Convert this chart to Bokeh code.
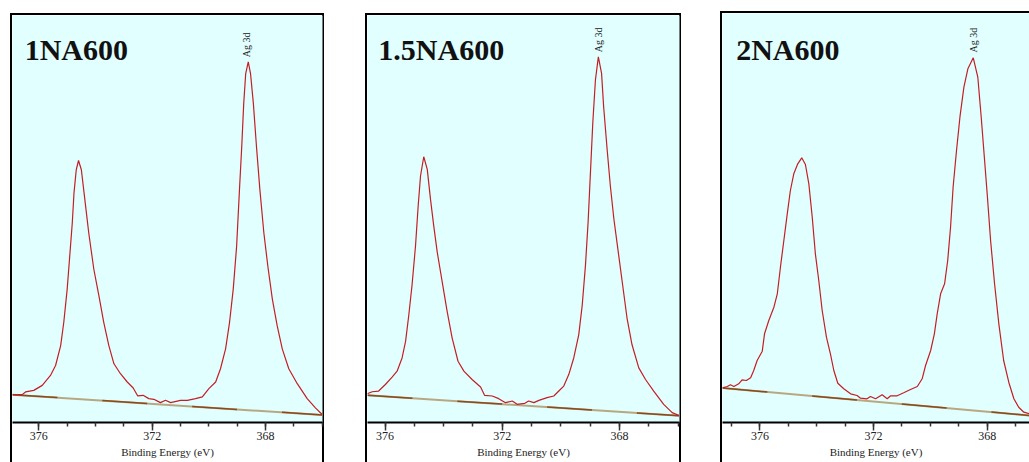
import math
from bokeh.plotting import figure
from bokeh.models import Range1d, FixedTicker, Label
from bokeh.layouts import row
from bokeh.embed import file_html
from bokeh.resources import INLINE

# ---------------- data ----------------
samples = ["1NA600", "1.5NA600", "2NA600"]
peak_name = "Ag 3d"
axis_title = "Binding Energy (eV)"
major_ticks = [376, 372, 368]
minor_ticks = [366, 367, 368, 369, 370, 371, 372, 373, 374, 375, 376, 377]

be_1 = [376.94, 376.59, 376.47, 376.18, 375.88, 375.59, 375.41, 375.23, 375.12, 375.00,
        374.91, 374.82, 374.76, 374.68, 374.60, 374.50, 374.39, 374.24, 374.06, 373.88,
        373.71, 373.53, 373.35, 373.12, 372.88, 372.67, 372.51, 372.32, 372.12, 371.94,
        371.71, 371.53, 371.35, 371.00, 370.76, 370.47, 370.23, 370.00, 369.76, 369.59,
        369.41, 369.27, 369.14, 369.02, 368.92, 368.84, 368.77, 368.70, 368.61, 368.53,
        368.43, 368.32, 368.20, 368.06, 367.92, 367.76, 367.59, 367.41, 367.18, 366.88,
        366.53, 366.24, 366.00]
cps_1 = [2800, 2800, 3070, 3230, 3730, 4730, 5730, 7730, 10070, 13400,
         16730, 20070, 23070, 25400, 26330, 25400, 22730, 19070, 15400, 12730,
         10070, 7730, 5900, 4900, 4070, 3470, 2670, 2730, 2400, 2330,
         2000, 2230, 2000, 2230, 2230, 2400, 2570, 3400, 4070, 5400,
         7400, 10070, 13400, 17730, 23400, 27730, 32070, 35070, 36230, 35070,
         32070, 27730, 23400, 19070, 15730, 12400, 9730, 7400, 5400, 3900,
         2400, 1470, 800]
bg_be_1 = [376.93, 365.99]
bg_cps_1 = [2800, 750]

be_2 = [376.61, 376.44, 376.22, 375.99, 375.76, 375.59, 375.42, 375.30, 375.19, 375.08,
        374.96, 374.87, 374.79, 374.68, 374.56, 374.45, 374.34, 374.22, 374.05, 373.88,
        373.71, 373.51, 373.31, 373.03, 372.74, 372.60, 372.34, 372.12, 371.89, 371.66,
        371.49, 371.23, 371.10, 370.92, 370.75, 370.47, 370.24, 370.07, 369.90, 369.73,
        369.56, 369.39, 369.27, 369.16, 369.07, 368.99, 368.91, 368.82, 368.72, 368.61,
        368.54, 368.42, 368.31, 368.19, 368.04, 367.89, 367.74, 367.57, 367.34, 367.11,
        366.83, 366.49, 366.20, 365.98]
cps_2 = [2900, 3100, 3170, 3830, 4570, 5170, 6500, 8170, 10830, 13830,
         17830, 21830, 24830, 26770, 25500, 22500, 19830, 17170, 14170, 11170,
         8500, 6170, 5170, 4330, 3570, 2730, 2670, 2400, 2000, 2170,
         1830, 1930, 2170, 2000, 2230, 2500, 2670, 3170, 3670, 4830,
         6500, 8830, 11830, 15830, 20170, 25170, 30170, 34500, 36830, 35170,
         31830, 27500, 23830, 20500, 17170, 13830, 10500, 7830, 5500, 4330,
         3170, 1830, 1000, 730]
bg_be_2 = [376.60, 365.95]
bg_cps_2 = [2750, 670]

be_3 = [377.33, 377.15, 377.04, 376.92, 376.75, 376.63, 376.48, 376.33, 376.22, 376.10,
        375.92, 375.84, 375.69, 375.51, 375.39, 375.28, 375.16, 375.04, 374.93, 374.81,
        374.67, 374.53, 374.40, 374.28, 374.16, 374.05, 373.93, 373.81, 373.66, 373.52,
        373.40, 373.26, 373.05, 372.81, 372.58, 372.46, 372.23, 372.11, 371.93, 371.70,
        371.52, 371.40, 371.17, 370.94, 370.70, 370.46, 370.29, 370.17, 369.99, 369.86,
        369.76, 369.64, 369.50, 369.39, 369.29, 369.20, 369.08, 368.96, 368.82, 368.68,
        368.49, 368.33, 368.21, 368.10, 368.00, 367.88, 367.74, 367.59, 367.42, 367.24,
        367.06, 366.89, 366.71, 366.51]
cps_3 = [3470, 3600, 3770, 3600, 3870, 4270, 4200, 4470, 5200, 6200,
         7130, 8870, 10200, 11530, 12870, 15530, 18200, 20870, 23200, 24870,
         25870, 26470, 25800, 23870, 20530, 16870, 14200, 11200, 8530, 6870,
         5200, 3930, 3370, 2870, 2700, 2430, 2370, 2600, 2370, 2770,
         2370, 2670, 2670, 2970, 3300, 3600, 4370, 5700, 7200, 8870,
         10870, 12870, 13870, 16200, 19530, 23530, 27200, 30530, 33530, 35370,
         36470, 34530, 30530, 26530, 22870, 18200, 13870, 9870, 6200, 4030,
         2370, 1530, 1030, 870]
bg_be_3 = [377.32, 366.51]
bg_cps_3 = [3450, 700]

# peak positions of Ag 3d5/2 (label anchor)
tag_be = [368.66, 368.72, 368.49]

# ---------------- styling / layout ----------------
BG = "#E1FFFF"
CURVE = "#C41E24"
SERIF = "Liberation Serif"


def make_panel(title, be, cps, bg_be, bg_cps, tag_x, *, x_start, x_end, y_top,
               width, height, mb_bottom, mb_right, margin, shadow,
               title_x, title_y, tag_y):
    p = figure(width=width, height=height,
               x_range=Range1d(x_start, x_end), y_range=Range1d(0, y_top),
               output_backend="svg", toolbar_location=None,
               y_axis_location=None,
               min_border_left=2, min_border_right=mb_right,
               min_border_top=2, min_border_bottom=mb_bottom,
               background_fill_color=BG, border_fill_color=None,
               outline_line_color=None, margin=margin,
               styles={"box-shadow": shadow})
    p.xgrid.visible = False
    p.ygrid.visible = False

    ax = p.xaxis[0]
    ax.ticker = FixedTicker(ticks=major_ticks, minor_ticks=minor_ticks)
    ax.axis_line_color = "black"
    ax.axis_line_width = 2
    ax.major_tick_out = 8
    ax.major_tick_in = 0
    ax.minor_tick_out = 4
    ax.minor_tick_in = 0
    ax.major_tick_line_color = "#333333"
    ax.minor_tick_line_color = "#333333"
    ax.major_tick_line_width = 1.5
    ax.minor_tick_line_width = 1.5
    ax.major_label_standoff = 1
    ax.major_label_text_font = SERIF
    ax.major_label_text_font_size = "12px"
    ax.major_label_text_color = "#222222"
    ax.axis_label = axis_title
    ax.axis_label_standoff = 3
    ax.axis_label_text_font = SERIF
    ax.axis_label_text_font_size = "11px"
    ax.axis_label_text_font_style = "normal"
    ax.axis_label_text_color = "#222222"

    p.line(bg_be, bg_cps, line_color="#B8A882", line_width=2)
    p.line(bg_be, bg_cps, line_color="#8B4A1C", line_width=1.5, line_dash="45 45")
    p.line(be, cps, line_color=CURVE, line_width=1.2)

    p.add_layout(Label(x=title_x, y=title_y, text=title, text_font=SERIF,
                       text_font_style="bold", text_font_size="30px",
                       text_color="#111111", text_align="left",
                       text_baseline="alphabetic"))
    p.add_layout(Label(x=tag_x, y=tag_y, text=peak_name, text_font=SERIF,
                       text_font_size="10px", text_color="#222222",
                       angle=math.pi / 2, text_align="left",
                       text_baseline="middle"))
    return p


SH3 = "inset 2px 2px 0 0 black, inset -2px 0 0 0 black"
SH2 = "inset 2px 2px 0 0 black"

p1 = make_panel(samples[0], be_1, cps_1, bg_be_1, bg_cps_1, tag_be[0],
                x_start=376.93, x_end=365.99, y_top=40900,
                width=314, height=449, mb_bottom=38, mb_right=2,
                margin=(13, 0, 0, 10), shadow=SH3,
                title_x=376.50, title_y=37500, tag_y=36700)
p2 = make_panel(samples[1], be_2, cps_2, bg_be_2, bg_cps_2, tag_be[1],
                x_start=376.60, x_end=365.95, y_top=41000,
                width=316, height=449, mb_bottom=37, mb_right=2,
                margin=(13, 0, 0, 41), shadow=SH3,
                title_x=376.23, title_y=37600, tag_y=37300)
p3 = make_panel(samples[2], be_3, cps_3, bg_be_3, bg_cps_3, tag_be[2],
                x_start=377.32, x_end=366.51, y_top=40900,
                width=309, height=451, mb_bottom=40, mb_right=0,
                margin=(11, 0, 0, 39), shadow=SH2,
                title_x=376.84, title_y=37300, tag_y=37000)

layout = row(p1, p2, p3, spacing=0)
open("out.html", "w").write(file_html(layout, INLINE))
